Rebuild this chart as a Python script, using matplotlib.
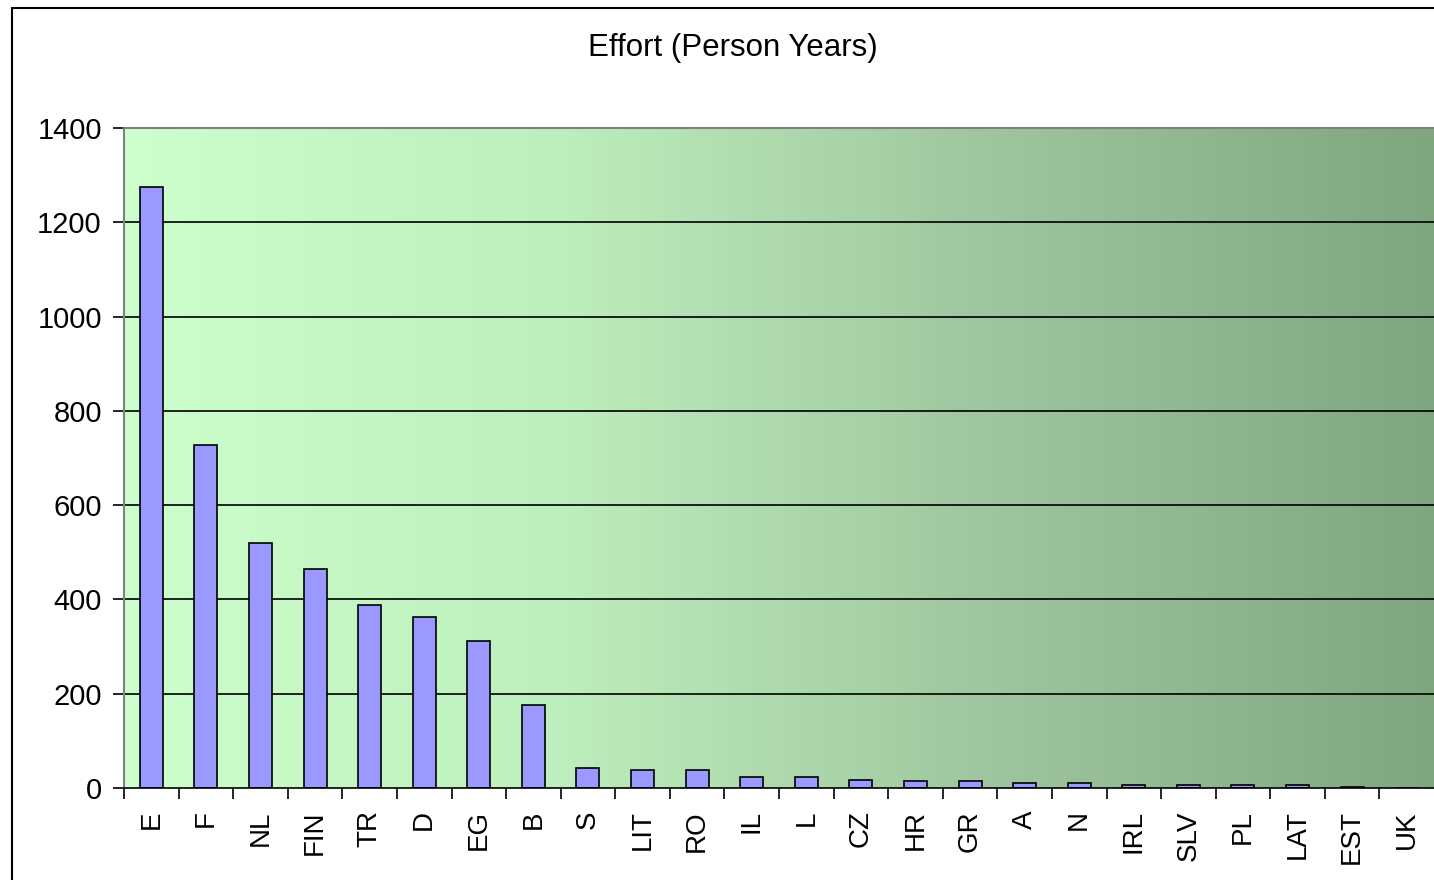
import numpy as np
import matplotlib
matplotlib.use('Agg')
import matplotlib.pyplot as plt
from matplotlib.colors import LinearSegmentedColormap
from matplotlib.patches import Rectangle

countries = ['E', 'F', 'NL', 'FIN', 'TR', 'D', 'EG', 'B', 'S', 'LIT', 'RO', 'IL',
             'L', 'CZ', 'HR', 'GR', 'A', 'N', 'IRL', 'SLV', 'PL', 'LAT', 'EST', 'UK']
effort = [1275, 728, 520, 465, 388, 363, 312, 176, 42, 38, 38, 23,
          23, 18, 15, 15, 11, 11, 7, 7, 7, 7, 3, 0]
yticks = [0, 200, 400, 600, 800, 1000, 1200, 1400]

plt.rcParams['font.family'] = ['Liberation Sans', 'DejaVu Sans']

fig = plt.figure(figsize=(14.34, 8.8), dpi=100)
fig.patches.append(Rectangle((12 / 1434, -0.1), 1.2, 1 - 8 / 880 + 0.1,
                             transform=fig.transFigure, fill=False,
                             edgecolor='black', linewidth=1.5))

ax = fig.add_axes([124 / 1434, 1 - 788 / 880, 1 - 124 / 1434, 660 / 880])

# background gradient, light green to grey green
cmap = LinearSegmentedColormap.from_list('bg', ['#ccffcc', '#bdeebd', '#9ec59e', '#80a680'])
grad = np.linspace(0, 1, 256).reshape(1, -1)
ax.imshow(grad, cmap=cmap, aspect='auto', extent=[0, 1, 0, 1],
          transform=ax.transAxes, zorder=0)

x = np.arange(len(countries))
for yv in yticks[1:-1]:
    ax.axhline(yv, color='black', linewidth=1.2, zorder=1)
ax.bar(x, effort, width=0.42, color='#9999ff', edgecolor='black', linewidth=1.2, zorder=2)

ax.set_xlim(-0.5, len(countries) - 0.5)
ax.set_ylim(0, 1400)
ax.set_yticks(yticks)
ax.tick_params(axis='y', labelsize=21, length=8, width=1.2, pad=8)

ax.set_xticks(x)
ax.set_xticklabels(countries, rotation=90, fontsize=20)
ax.set_xticks(np.arange(len(countries)) - 0.5, minor=True)
ax.tick_params(axis='x', which='major', length=0, pad=16)
ax.tick_params(axis='x', which='minor', length=8, width=1.2)

for side in ['top', 'left']:
    ax.spines[side].set_color('#808080')
    ax.spines[side].set_linewidth(1.5)
ax.spines['bottom'].set_color('black')
ax.spines['bottom'].set_linewidth(1.2)
ax.spines['right'].set_visible(False)

fig.text(733 / 1434, 1 - 48 / 880, 'Effort (Person Years)', ha='center', va='center', fontsize=22.5)

fig.savefig('out.png', dpi=100)
